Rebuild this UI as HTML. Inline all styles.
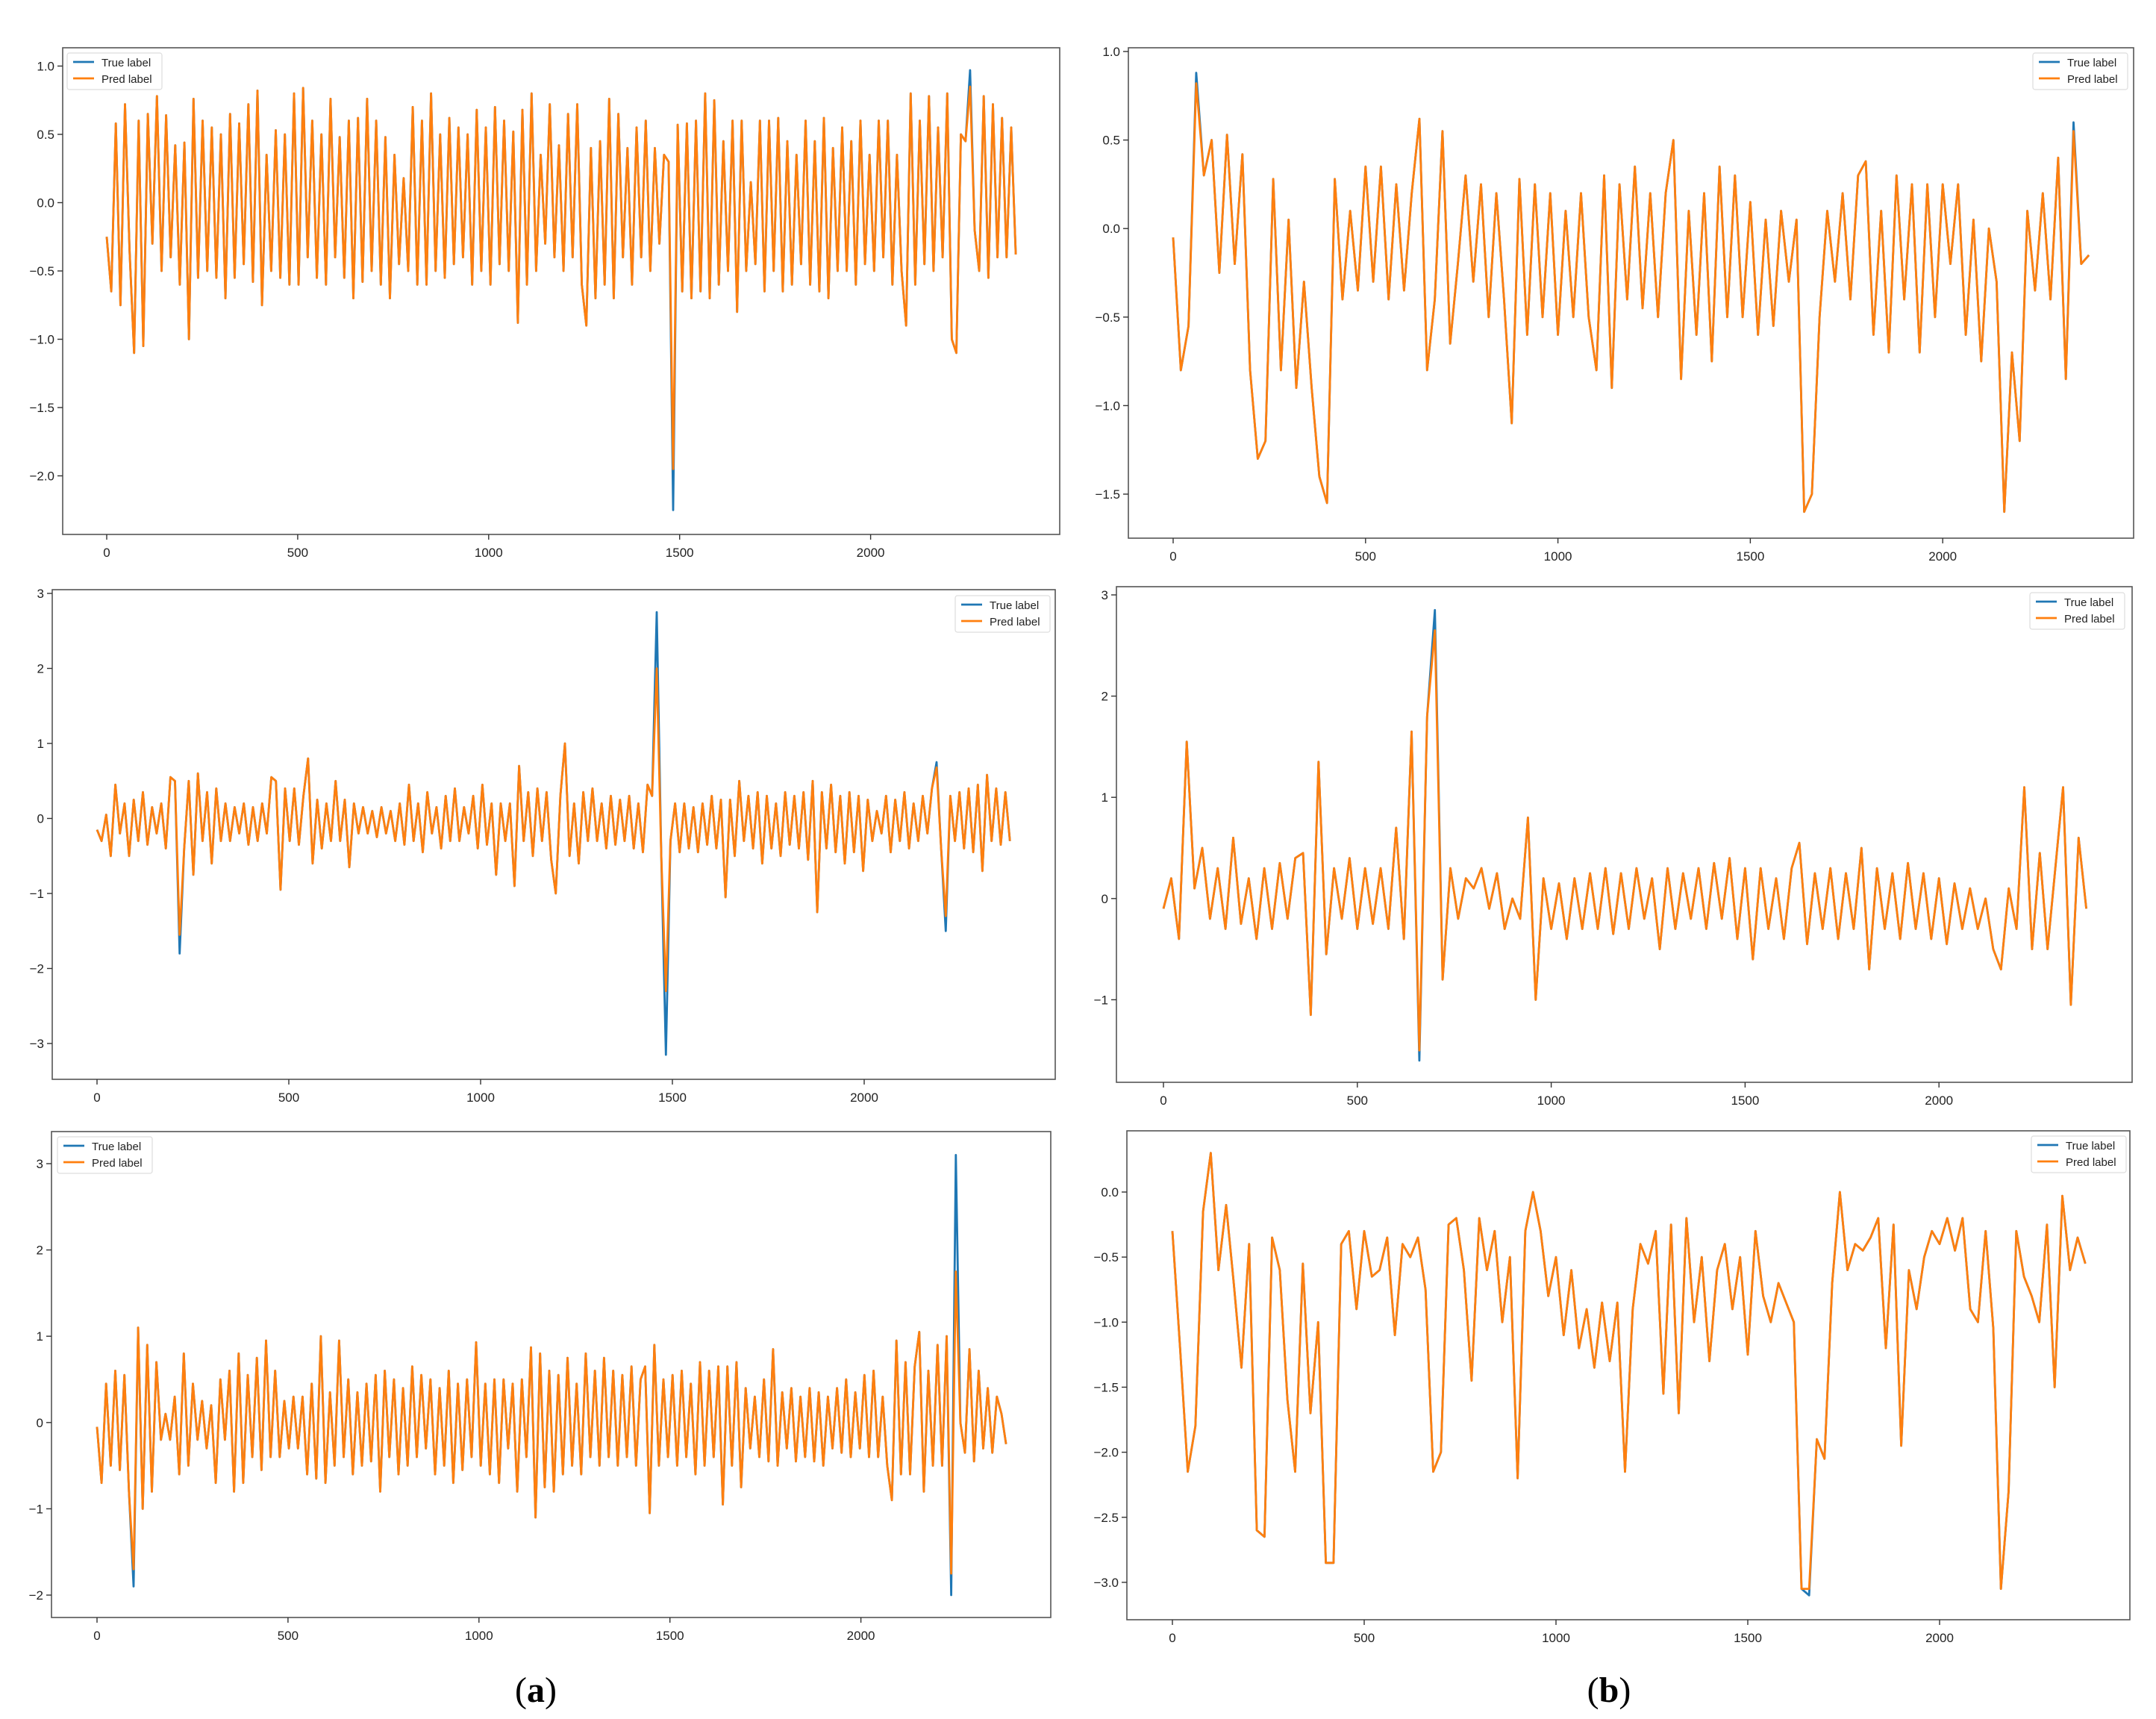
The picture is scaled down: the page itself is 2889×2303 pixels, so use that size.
<!DOCTYPE html>
<html><head><meta charset="utf-8"><style>
html,body{margin:0;padding:0;background:#fff;}
svg{display:block;font-family:"Liberation Sans","DejaVu Sans",sans-serif;}
</style></head><body>
<svg id="fig" width="2889" height="2303" viewBox="0 0 2889 2303" xmlns="http://www.w3.org/2000/svg">
<rect width="2889" height="2303" fill="#fff"/>
<text x="718" y="2280" font-family="Liberation Serif, serif" font-size="48" text-anchor="middle">(<tspan font-weight="bold">a</tspan>)</text>
<text x="2156" y="2280" font-family="Liberation Serif, serif" font-size="48" text-anchor="middle">(<tspan font-weight="bold">b</tspan>)</text>
</svg>
<script>
// ---- data (samples spread evenly over 0..2380) ----
const xMax = 2380;
const tlTrue = [-0.25,-0.65,0.58,-0.75,0.72,-0.35,-1.1,0.6,-1.05,0.65,
-0.3,0.78,-0.5,0.64,-0.4,0.42,-0.6,0.44,-1.0,0.76,
-0.55,0.6,-0.5,0.55,-0.55,0.5,-0.7,0.65,-0.55,0.58,
-0.45,0.72,-0.58,0.82,-0.75,0.35,-0.5,0.53,-0.55,0.5,
-0.6,0.8,-0.6,0.84,-0.4,0.6,-0.55,0.5,-0.6,0.76,
-0.4,0.48,-0.55,0.6,-0.7,0.62,-0.58,0.76,-0.5,0.6,
-0.6,0.48,-0.7,0.35,-0.45,0.18,-0.5,0.7,-0.6,0.6,
-0.6,0.8,-0.5,0.5,-0.55,0.62,-0.45,0.55,-0.4,0.5,
-0.6,0.68,-0.5,0.55,-0.6,0.7,-0.45,0.6,-0.5,0.52,
-0.88,0.68,-0.6,0.8,-0.5,0.35,-0.3,0.72,-0.4,0.42,
-0.5,0.65,-0.4,0.72,-0.6,-0.9,0.4,-0.7,0.45,-0.6,
0.76,-0.7,0.65,-0.4,0.4,-0.6,0.55,-0.4,0.6,-0.5,
0.4,-0.3,0.35,0.3,-2.25,0.57,-0.65,0.58,-0.7,0.6,
-0.65,0.8,-0.7,0.75,-0.6,0.45,-0.5,0.6,-0.8,0.6,
-0.5,0.15,-0.45,0.6,-0.65,0.6,-0.5,0.62,-0.65,0.45,
-0.6,0.35,-0.45,0.6,-0.6,0.45,-0.65,0.62,-0.7,0.4,
-0.5,0.55,-0.5,0.45,-0.6,0.6,-0.45,0.35,-0.5,0.6,
-0.4,0.6,-0.6,0.35,-0.5,-0.9,0.8,-0.6,0.6,-0.45,
0.78,-0.5,0.55,-0.4,0.8,-1.0,-1.1,0.5,0.45,0.97,
-0.2,-0.5,0.78,-0.55,0.72,-0.4,0.62,-0.4,0.55,-0.38];
const tlPredIdx = [124,189];
const tlPredVal = [-1.95,0.85];
const trTrue = [-0.05,-0.8,-0.55,0.88,0.3,0.5,-0.25,0.53,-0.2,0.42,
-0.8,-1.3,-1.2,0.28,-0.8,0.05,-0.9,-0.3,-0.9,-1.4,
-1.55,0.28,-0.4,0.1,-0.35,0.35,-0.3,0.35,-0.4,0.25,
-0.35,0.2,0.62,-0.8,-0.4,0.55,-0.65,-0.2,0.3,-0.3,
0.25,-0.5,0.2,-0.4,-1.1,0.28,-0.6,0.25,-0.5,0.2,
-0.6,0.1,-0.5,0.2,-0.5,-0.8,0.3,-0.9,0.25,-0.4,
0.35,-0.45,0.2,-0.5,0.2,0.5,-0.85,0.1,-0.6,0.2,
-0.75,0.35,-0.5,0.3,-0.5,0.15,-0.6,0.05,-0.55,0.1,
-0.3,0.05,-1.6,-1.5,-0.5,0.1,-0.3,0.2,-0.4,0.3,
0.38,-0.6,0.1,-0.7,0.3,-0.4,0.25,-0.7,0.25,-0.5,
0.25,-0.2,0.25,-0.6,0.05,-0.75,0.0,-0.3,-1.6,-0.7,
-1.2,0.1,-0.35,0.2,-0.4,0.4,-0.85,0.6,-0.2,-0.15];
const trPredIdx = [3,117];
const trPredVal = [0.82,0.55];
const mlTrue = [-0.15,-0.3,0.05,-0.5,0.45,-0.2,0.2,-0.5,0.25,-0.3,
0.35,-0.35,0.15,-0.2,0.2,-0.4,0.55,0.5,-1.8,-0.4,
0.5,-0.75,0.6,-0.3,0.35,-0.6,0.4,-0.3,0.2,-0.3,
0.15,-0.2,0.2,-0.35,0.15,-0.3,0.2,-0.2,0.55,0.5,
-0.95,0.4,-0.3,0.4,-0.35,0.3,0.8,-0.6,0.25,-0.4,
0.2,-0.3,0.5,-0.3,0.25,-0.65,0.2,-0.2,0.15,-0.2,
0.1,-0.25,0.15,-0.2,0.1,-0.3,0.2,-0.35,0.45,-0.3,
0.2,-0.45,0.35,-0.2,0.15,-0.4,0.3,-0.3,0.4,-0.3,
0.15,-0.2,0.3,-0.4,0.45,-0.35,0.2,-0.75,0.2,-0.3,
0.2,-0.9,0.7,-0.3,0.35,-0.5,0.4,-0.3,0.35,-0.55,
-1.0,0.3,1.0,-0.5,0.2,-0.6,0.35,-0.3,0.4,-0.3,
0.2,-0.4,0.3,-0.35,0.25,-0.3,0.3,-0.4,0.2,-0.45,
0.45,0.3,2.75,-0.5,-3.15,-0.3,0.2,-0.45,0.2,-0.4,
0.15,-0.45,0.2,-0.35,0.3,-0.4,0.25,-1.05,0.25,-0.5,
0.5,-0.3,0.3,-0.4,0.35,-0.6,0.3,-0.4,0.2,-0.5,
0.35,-0.35,0.3,-0.4,0.35,-0.55,0.5,-1.25,0.35,-0.4,
0.45,-0.45,0.3,-0.6,0.35,-0.45,0.3,-0.7,0.25,-0.3,
0.1,-0.2,0.3,-0.45,0.25,-0.3,0.35,-0.4,0.2,-0.3,
0.3,-0.2,0.4,0.75,-0.4,-1.5,0.3,-0.3,0.35,-0.4,
0.4,-0.45,0.45,-0.7,0.58,-0.3,0.4,-0.35,0.35,-0.3];
const mlPredIdx = [18,122,124,183,185];
const mlPredVal = [-1.55,2.0,-2.3,0.68,-1.3];
const mrTrue = [-0.1,0.2,-0.4,1.55,0.1,0.5,-0.2,0.3,-0.3,0.6,
-0.25,0.2,-0.4,0.3,-0.3,0.35,-0.2,0.4,0.45,-1.15,
1.35,-0.55,0.3,-0.2,0.4,-0.3,0.3,-0.25,0.3,-0.3,
0.7,-0.4,1.65,-1.6,1.8,2.85,-0.8,0.3,-0.2,0.2,
0.1,0.3,-0.1,0.25,-0.3,0.0,-0.2,0.8,-1.0,0.2,
-0.3,0.15,-0.4,0.2,-0.3,0.25,-0.3,0.3,-0.35,0.25,
-0.3,0.3,-0.2,0.2,-0.5,0.3,-0.3,0.25,-0.2,0.3,
-0.3,0.35,-0.2,0.4,-0.4,0.3,-0.6,0.3,-0.3,0.2,
-0.4,0.3,0.55,-0.45,0.25,-0.3,0.3,-0.4,0.25,-0.3,
0.5,-0.7,0.3,-0.3,0.25,-0.4,0.35,-0.3,0.25,-0.4,
0.2,-0.45,0.15,-0.3,0.1,-0.3,0.0,-0.5,-0.7,0.1,
-0.3,1.1,-0.5,0.45,-0.5,0.3,1.1,-1.05,0.6,-0.1];
const mrPredIdx = [33,35];
const mrPredVal = [-1.5,2.65];
const blTrue = [-0.05,-0.7,0.45,-0.5,0.6,-0.55,0.55,-0.8,-1.9,1.1,
-1.0,0.9,-0.8,0.7,-0.2,0.1,-0.2,0.3,-0.6,0.8,
-0.5,0.45,-0.2,0.25,-0.3,0.2,-0.7,0.5,-0.2,0.6,
-0.8,0.8,-0.7,0.55,-0.4,0.75,-0.55,0.95,-0.4,0.6,
-0.4,0.25,-0.3,0.3,-0.3,0.3,-0.6,0.45,-0.65,1.0,
-0.7,0.35,-0.5,0.95,-0.4,0.5,-0.6,0.35,-0.5,0.45,
-0.45,0.55,-0.8,0.6,-0.4,0.5,-0.6,0.4,-0.5,0.65,
-0.4,0.55,-0.3,0.5,-0.6,0.4,-0.5,0.6,-0.7,0.45,
-0.55,0.5,-0.4,0.93,-0.5,0.45,-0.6,0.5,-0.7,0.5,
-0.3,0.45,-0.8,0.5,-0.4,0.87,-1.1,0.8,-0.75,0.6,
-0.8,0.55,-0.6,0.75,-0.5,0.45,-0.6,0.8,-0.4,0.6,
-0.5,0.75,-0.4,0.6,-0.5,0.55,-0.4,0.65,-0.5,0.5,
0.65,-1.05,0.9,-0.5,0.5,-0.4,0.55,-0.5,0.6,-0.4,
0.45,-0.6,0.7,-0.5,0.6,-0.4,0.65,-0.95,0.65,-0.5,
0.7,-0.75,0.4,-0.3,0.3,-0.4,0.5,-0.45,0.85,-0.5,
0.35,-0.3,0.4,-0.45,0.3,-0.4,0.4,-0.45,0.35,-0.5,
0.3,-0.3,0.4,-0.35,0.5,-0.4,0.35,-0.3,0.55,-0.4,
0.6,-0.4,0.3,-0.5,-0.9,0.95,-0.6,0.7,-0.6,0.65,
1.05,-0.8,0.6,-0.5,0.9,-0.5,1.0,-2.0,3.1,0.0,
-0.35,0.85,-0.45,0.6,-0.3,0.4,-0.35,0.3,0.1,-0.25];
const blPredIdx = [8,187,188];
const blPredVal = [-1.7,-1.75,1.75];
const brTrue = [-0.3,-1.2,-2.15,-1.8,-0.15,0.3,-0.6,-0.1,-0.7,-1.35,
-0.4,-2.6,-2.65,-0.35,-0.6,-1.6,-2.15,-0.55,-1.7,-1.0,
-2.85,-2.85,-0.4,-0.3,-0.9,-0.3,-0.65,-0.6,-0.35,-1.1,
-0.4,-0.5,-0.35,-0.75,-2.15,-2.0,-0.25,-0.2,-0.6,-1.45,
-0.2,-0.6,-0.3,-1.0,-0.5,-2.2,-0.3,0.0,-0.3,-0.8,
-0.5,-1.1,-0.6,-1.2,-0.9,-1.35,-0.85,-1.3,-0.85,-2.15,
-0.9,-0.4,-0.55,-0.3,-1.55,-0.25,-1.7,-0.2,-1.0,-0.5,
-1.3,-0.6,-0.4,-0.9,-0.5,-1.25,-0.3,-0.8,-1.0,-0.7,
-0.85,-1.0,-3.05,-3.1,-1.9,-2.05,-0.7,0.0,-0.6,-0.4,
-0.45,-0.35,-0.2,-1.2,-0.25,-1.95,-0.6,-0.9,-0.5,-0.3,
-0.4,-0.2,-0.45,-0.2,-0.9,-1.0,-0.3,-1.05,-3.05,-2.3,
-0.3,-0.65,-0.8,-1.0,-0.25,-1.5,-0.03,-0.6,-0.35,-0.55];
const brPredIdx = [83];
const brPredVal = [-3.05];
// tick labels
const xTicks = [0,500,1000,1500,2000];
const tlYTicks = [1.0,0.5,0.0,-0.5,-1.0,-1.5,-2.0];
const trYTicks = [1.0,0.5,0.0,-0.5,-1.0,-1.5];
const mlYTicks = [3,2,1,0,-1,-2,-3];
const mrYTicks = [3,2,1,0,-1];
const blYTicks = [3,2,1,0,-1,-2];
const brYTicks = [0.0,-0.5,-1.0,-1.5,-2.0,-2.5,-3.0];

const panels = [
 {name:'top-left',L:84,R:1420,T:64,B:716,x0:143,p500:255.9,yr:1.0,yrPx:88.5,pu:183,ticks:tlYTicks,dec:1,leg:[90,71],tv:tlTrue,pi:tlPredIdx,pv:tlPredVal},
 {name:'top-right',L:1512,R:2859,T:64,B:721,x0:1572,p500:257.8,yr:1.0,yrPx:69,pu:237.2,ticks:trYTicks,dec:1,leg:[2724,71],tv:trTrue,pi:trPredIdx,pv:trPredVal},
 {name:'middle-left',L:70,R:1414,T:790,B:1446,x0:130,p500:257,yr:3,yrPx:795,pu:100.5,ticks:mlYTicks,dec:0,leg:[1280,798],tv:mlTrue,pi:mlPredIdx,pv:mlPredVal},
 {name:'middle-right',L:1496,R:2857,T:786,B:1450,x0:1559,p500:259.8,yr:3,yrPx:797,pu:135.6,ticks:mrYTicks,dec:0,leg:[2720,794],tv:mrTrue,pi:mrPredIdx,pv:mrPredVal},
 {name:'bottom-left',L:69,R:1408,T:1516,B:2167,x0:130,p500:255.9,yr:3,yrPx:1559,pu:115.6,ticks:blYTicks,dec:0,leg:[77,1523],tv:blTrue,pi:blPredIdx,pv:blPredVal},
 {name:'bottom-right',L:1510,R:2854,T:1515,B:2170,x0:1571,p500:257,yr:0,yrPx:1597,pu:174.3,ticks:brYTicks,dec:1,leg:[2722,1522],tv:brTrue,pi:brPredIdx,pv:brPredVal}
];

const NS='http://www.w3.org/2000/svg';
const svg=document.getElementById('fig');
function mk(tag,attrs,parent){const e=document.createElementNS(NS,tag);for(const k in attrs)e.setAttribute(k,attrs[k]);(parent||svg).appendChild(e);return e;}
function fmt(v,d){const s=Math.abs(v).toFixed(d);return (v<0?'\u2212':'')+s;}

panels.forEach(p=>{
  const g=mk('g',{});
  
  
  const sx=v=>p.x0+v*p.p500/500;
  const sy=v=>p.yrPx+(p.yr-v)*p.pu;
  const n=p.tv.length;
  const xs=i=>sx(i*xMax/(n-1));
  const clipId='clip-'+p.name;
  const cp=mk('clipPath',{id:clipId},g);
  mk('rect',{x:p.L,y:p.T,width:p.R-p.L,height:p.B-p.T},cp);
  let d='';p.tv.forEach((v,i)=>{d+=(i?'L':'M')+xs(i).toFixed(1)+' '+sy(v).toFixed(1);});
  const lt=mk('path',{d:d,fill:'none',stroke:'#1f77b4','stroke-width':2.8,'stroke-linejoin':'round','clip-path':'url(#'+clipId+')'},g);
  
  
  const pred=p.tv.slice();
  p.pi.forEach((ix,k)=>{pred[ix]=p.pv[k];});
  let d2='';pred.forEach((v,i)=>{d2+=(i?'L':'M')+xs(i).toFixed(1)+' '+sy(v).toFixed(1);});
  const lp=mk('path',{d:d2,fill:'none',stroke:'#ff7f0e','stroke-width':2.8,'stroke-linejoin':'round','clip-path':'url(#'+clipId+')'},g);
  
  
  const fr=mk('rect',{x:p.L,y:p.T,width:p.R-p.L,height:p.B-p.T,fill:'none',stroke:'#555','stroke-width':1.6},g);
  
  
  xTicks.forEach(t=>{
    const x=sx(t);
    mk('line',{x1:x,y1:p.B,x2:x,y2:p.B+7,stroke:'#333','stroke-width':1.4},g);
    const tx=mk('text',{x:x,y:p.B+30,'font-size':17,'text-anchor':'middle',fill:'#222'},g);
    
    
    tx.textContent=t;
  });
  p.ticks.forEach(t=>{
    const y=sy(t);
    mk('line',{x1:p.L-7,y1:y,x2:p.L,y2:y,stroke:'#333','stroke-width':1.4},g);
    const ty=mk('text',{x:p.L-11,y:y+6,'font-size':17,'text-anchor':'end',fill:'#222'},g);
    
    
    ty.textContent=fmt(t,p.dec);
  });
  const [lx,ly]=p.leg;
  const lg=mk('g',{},g);
  
  
  mk('rect',{x:lx,y:ly,width:127,height:49,rx:3,fill:'#fff','fill-opacity':0.85,stroke:'#ddd','stroke-width':1.2},lg);
  [['True label','#1f77b4',16],['Pred label','#ff7f0e',38]].forEach(([lab,c,dy])=>{
    mk('line',{x1:lx+8,y1:ly+dy-4,x2:lx+36,y2:ly+dy-4,stroke:c,'stroke-width':2.8},lg);
    const t=mk('text',{x:lx+46,y:ly+dy+2,'font-size':15,fill:'#222'},lg);
    
    
    t.textContent=lab;
  });
});
</script>
</body></html>
